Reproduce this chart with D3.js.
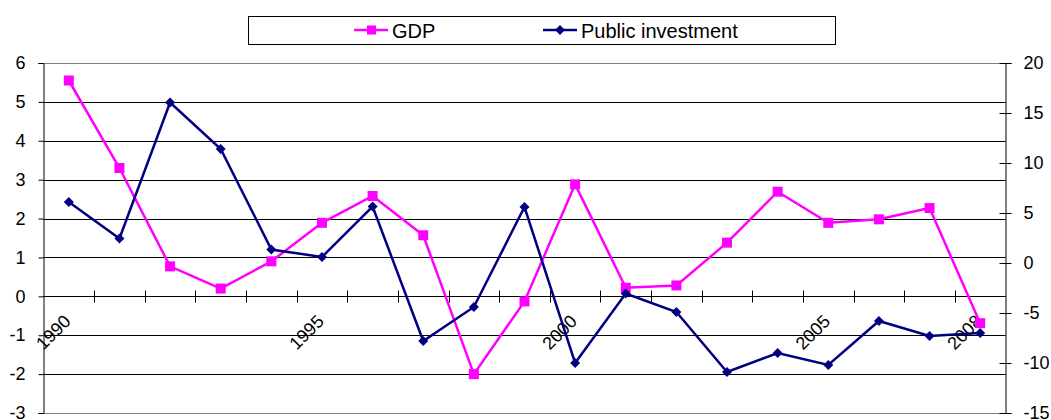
<!DOCTYPE html>
<html>
<head>
<meta charset="utf-8">
<script src="https://cdn.jsdelivr.net/npm/d3@7"></script>
<style>
  body { margin: 0; background: #fff; }
  svg text { font-family: Arial, "Liberation Sans", sans-serif; fill: #000; }
</style>
</head>
<body>
<div id="chart"></div>
<script>
var years = ['1990','1991','1992','1993','1994','1995','1996','1997','1998','1999',
             '2000','2001','2002','2003','2004','2005','2006','2007','2008'];
var yearLabels = ['1990','','','','','1995','','','','','2000','','','','','2005','','','2008'];
var gdp = [5.55, 3.3, 0.77, 0.2, 0.9, 1.89, 2.58, 1.57, -2.0, -0.13,
           2.88, 0.22, 0.28, 1.38, 2.69, 1.89, 1.98, 2.27, -0.69];
var investment = [6.1, 2.45, 16.05, 11.4, 1.35, 0.6, 5.65, -7.8, -4.4, 5.6,
                  -10.0, -3.05, -4.9, -10.9, -9.0, -10.2, -5.8, -7.3, -7.0];
var leftTicks = [-3, -2, -1, 0, 1, 2, 3, 4, 5, 6];
var rightTicks = [-15, -10, -5, 0, 5, 10, 15, 20];

var width = 1051, height = 420;
var plotLeft = 43.5, plotRight = 1005.5, plotTop = 63, plotBottom = 413;

var svg = d3.select('#chart').append('svg').attr('width', width).attr('height', height);

var x = d3.scaleBand().domain(years).range([plotLeft, plotRight]).padding(0);
var yL = d3.scaleLinear().domain([-3, 6]).range([plotBottom, plotTop]);
var yR = d3.scaleLinear().domain([-15, 20]).range([plotBottom, plotTop]);
var cx = function (d) { return x(d) + x.bandwidth() / 2; };

// gridlines
svg.append('g').selectAll('line')
    .data(leftTicks)
    .enter()
    .append('line')
    .attr('x1', plotLeft).attr('x2', plotRight)
    .attr('y1', function (d) { return Math.round(yL(d)) + 0.5; })
    .attr('y2', function (d) { return Math.round(yL(d)) + 0.5; })
    .attr('stroke', function (d) { return (d == 6 || d == -3) ? '#808080' : '#000'; })
    .attr('stroke-width', 1);

// left axis
var axL = svg.append('g')
    .attr('transform', 'translate(' + plotLeft + ',0)')
    .call(d3.axisLeft(yL).tickValues(leftTicks).tickSize(5).tickPadding(13)
        .tickFormat(function (d) { return String(d); }));
axL.selectAll('text').attr('font-size', 18);
axL.select('.domain').attr('stroke', '#000');

// right axis, cross ticks
var axR = svg.append('g')
    .attr('transform', 'translate(' + plotRight + ',0)')
    .call(d3.axisRight(yR).tickValues(rightTicks).tickSize(6).tickPadding(12)
        .tickFormat(function (d) { return String(d); }));
axR.selectAll('.tick line').attr('x1', -6);
axR.selectAll('text').attr('font-size', 18);
axR.select('.domain').attr('stroke', '#000');

// category axis at zero
var y0 = Math.round(yL(0)) + 0.5;
svg.append('line')
    .attr('x1', plotLeft).attr('x2', plotRight).attr('y1', y0).attr('y2', y0)
    .attr('stroke', '#000');
var bounds = years.map(function (d) { return x(d); }).slice(1);
svg.append('g').selectAll('line')
    .data(bounds)
    .enter()
    .append('line')
    .attr('x1', function (d) { return Math.round(d) + 0.5; })
    .attr('x2', function (d) { return Math.round(d) + 0.5; })
    .attr('y1', y0 - 6).attr('y2', y0 + 6)
    .attr('stroke', '#000');

svg.append('g').selectAll('text')
    .data(years)
    .enter()
    .append('text')
    .attr('transform', function (d) {
        return 'translate(' + (cx(d) + 3) + ',' + (y0 + 26) + ') rotate(-45)';
    })
    .attr('text-anchor', 'end')
    .attr('font-size', 18)
    .text(function (d, i) { return yearLabels[i]; });

// series
var lineL = d3.line().x(function (d, i) { return cx(years[i]); }).y(function (d) { return yL(d); });
var lineR = d3.line().x(function (d, i) { return cx(years[i]); }).y(function (d) { return yR(d); });

svg.append('path').datum(gdp)
    .attr('d', lineL).attr('fill', 'none')
    .attr('stroke', '#FF00FF').attr('stroke-width', 2.5);
svg.append('g').selectAll('rect')
    .data(gdp)
    .enter()
    .append('rect')
    .attr('x', function (d, i) { return cx(years[i]) - 5; })
    .attr('y', function (d) { return yL(d) - 5; })
    .attr('width', 10).attr('height', 10)
    .attr('fill', '#FF00FF');

svg.append('path').datum(investment)
    .attr('d', lineR).attr('fill', 'none')
    .attr('stroke', '#000080').attr('stroke-width', 2.5);
var diamond = 'M0,-5L5,0L0,5L-5,0Z';
svg.append('g').selectAll('path')
    .data(investment)
    .enter()
    .append('path')
    .attr('d', diamond)
    .attr('transform', function (d, i) { return 'translate(' + cx(years[i]) + ',' + yR(d) + ')'; })
    .attr('fill', '#000080');

// legend
var lg = svg.append('g');
lg.append('rect')
    .attr('x', 248.5).attr('y', 16.5).attr('width', 587).attr('height', 28)
    .attr('fill', '#fff').attr('stroke', '#000');
lg.append('line').attr('x1', 354).attr('x2', 388).attr('y1', 30).attr('y2', 30)
    .attr('stroke', '#FF00FF').attr('stroke-width', 2.5);
lg.append('rect').attr('x', 367).attr('y', 25.5).attr('width', 9).attr('height', 9).attr('fill', '#FF00FF');
lg.append('text').attr('x', 392).attr('y', 37.5).attr('font-size', 20).text('GDP');
lg.append('line').attr('x1', 543).attr('x2', 577).attr('y1', 30).attr('y2', 30)
    .attr('stroke', '#000080').attr('stroke-width', 2.5);
lg.append('path').attr('d', diamond).attr('transform', 'translate(560,30)').attr('fill', '#000080');
lg.append('text').attr('x', 581).attr('y', 37.5).attr('font-size', 20).text('Public investment');
</script>
</body>
</html>
